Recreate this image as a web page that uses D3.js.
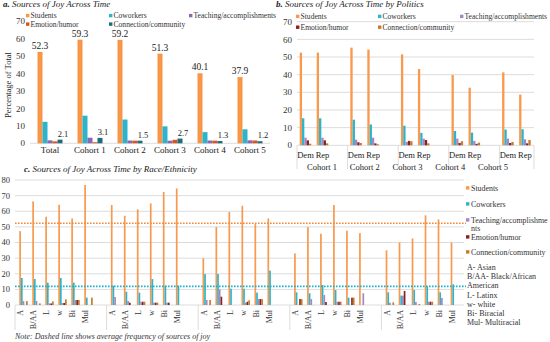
<!DOCTYPE html>
<html>
<head>
<meta charset="utf-8">
<script src="https://cdn.jsdelivr.net/npm/d3@7"></script>
<style>
  body { margin: 0; background: #fff; }
  svg { display: block; font-family: 'Liberation Serif', 'Times New Roman', serif; }
</style>
</head>
<body>
<div id="chart"></div>
<script>
/* global d3 */

const seriesNames = ['Students', 'Coworkers', 'Teaching/accomplishments', 'Emotion/humor', 'Connection/community']

// a. across time
const timeCats = ['Total', 'Cohort 1', 'Cohort 2', 'Cohort 3', 'Cohort 4', 'Cohort 5']
const timeStudents = [52.3, 59.3, 59.2, 51.3, 40.1, 37.9]
const timeCoworkers = [12.3, 15.8, 13.6, 9.7, 6.4, 8.0]
const timeTeaching = [1.7, 3.2, 1.6, 1.5, 1.6, 1.7]
const timeEmotion = [1.1, 0.6, 1.5, 2.0, 1.5, 1.6]
const timeConnection = [2.1, 3.1, 1.5, 2.7, 1.3, 1.2]

// b. by politics (Dem, Rep per cohort)
const cohorts = ['Cohort 1', 'Cohort 2', 'Cohort 3', 'Cohort 4', 'Cohort 5']
const parties = ['Dem', 'Rep']
const polStudents = [52.5, 52.5, 55.3, 54.2, 51.5, 43.2, 39.8, 32.6, 41.3, 28.7]
const polCoworkers = [15.3, 15.3, 14.5, 11.8, 11.1, 7.0, 8.1, 7.2, 8.9, 9.1]
const polTeaching = [4.3, 4.3, 3.2, 4.3, 1.9, 3.8, 3.8, 2.5, 3.8, 3.4]
const polEmotion = [2.8, 2.8, 1.7, 1.1, 2.5, 3.0, 1.3, 0.8, 1.3, 1.1]
const polConnection = [0.9, 1.1, 1.3, 0.6, 2.3, 1.1, 2.3, 1.5, 1.9, 3.0]

// c. by race/ethnicity (6 groups per cohort)
const races = ['A', 'B/AA', 'L', 'w', 'Bi', 'Mul']
const raceStudents = [
  47.3, 66.3, 56.5, 64.2, 55.4, 76.8,
  64.0, 57.1, 61.2, 65.0, 72.3, 74.6,
  29.9, 49.9, 59.5, 63.5, 51.8, 55.4,
  33.0, 49.9, 45.6, 64.0, 47.5, 46.0,
  35.0, 40.0, 42.6, 57.4, 54.8, 40.0]
const raceCoworkers = [
  17.3, 16.6, 14.3, 17.3, 14.3, 4.7,
  12.4, 8.5, 7.9, 16.6, 12.4, 12.4,
  19.8, 19.8, 10.4, 10.4, 7.9, 22.0,
  8.1, 7.5, 12.8, 9.6, 4.7, 0,
  8.1, 6.0, 9.6, 11.7, 8.1, 13.2]
const raceTeaching = [
  2.5, 2.6, 1.0, 1.3, 3.2, 0,
  5.1, 2.6, 2.1, 1.5, 1.5, 0,
  3.2, 10.0, 0, 1.5, 3.8, 0,
  0, 3.8, 6.4, 2.1, 0, 7.5,
  1.5, 6.0, 1.9, 2.1, 4.5, 0]
const raceEmotion = [
  0, 0, 1.0, 1.3, 3.2, 0,
  0, 1.5, 2.1, 1.5, 1.5, 0,
  0, 5.3, 0, 2.1, 3.8, 0,
  3.8, 0, 1.9, 2.1, 4.7, 0,
  0, 9.0, 0, 2.1, 0, 0]
const raceConnection = [
  2.5, 1.0, 2.3, 3.6, 3.2, 4.7,
  0, 0, 2.1, 1.5, 0, 0,
  3.2, 0, 0, 3.0, 3.8, 0,
  3.8, 0, 0, 2.1, 4.7, 0,
  1.7, 0, 0.6, 2.1, 0, 0]
const avgStudents = 52.3
const avgCoworkers = 11.9
const raceKey = ['A- Asian', 'B/AA- Black/African', 'American', 'L- Latinx', 'w- white', 'Bi- Biracial', 'Mul- Multiracial']

const colorsA = ['#f79646', '#2db4cb', '#8a66b4', '#d9541e', '#1d6d7c']
const colorsB = ['#f8994d', '#2db4cb', '#a487c6', '#8e1f1f', '#c87a2b']
const gridColor = '#dcdcdc'

const svg = d3.select('#chart').append('svg')
  .attr('width', 550)
  .attr('height', 342)

function legend(g, colors, items, size) {
  items.forEach(it => {
    g.append('rect')
      .attr('x', it.x).attr('y', it.y - 1.8)
      .attr('width', 3.4).attr('height', 3.4)
      .attr('fill', colors[it.i])
    g.append('text')
      .attr('x', it.x + 4.5).attr('y', it.y)
      .attr('dy', '0.33em')
      .attr('font-size', size)
      .attr('fill', '#333')
      .text(seriesNames[it.i])
  })
}

function title(x, y, letter, text) {
  const t = svg.append('text')
    .attr('x', x).attr('y', y)
    .attr('font-size', 9)
    .attr('font-style', 'italic')
    .attr('fill', '#222')
  t.append('tspan').attr('font-weight', 'bold').text(letter + '  ')
  t.append('tspan').text(text)
}

// ---------- panel a ----------
{
  const seriesVals = [timeStudents, timeCoworkers, timeTeaching, timeEmotion, timeConnection]
  const y = d3.scaleLinear().domain([0, 70]).range([143.3, 21])
  const x = d3.scaleBand().domain(timeCats).range([30, 270])
    .paddingInner(0.375).paddingOuter(0.1875)
  const xs = d3.scaleBand().domain(d3.range(5)).range([0, x.bandwidth()])
  const g = svg.append('g')

  title(3, 7, 'a.', 'Sources of Joy Across Time')
  legend(g, colorsA, [
    {i: 0, x: 26, y: 15.7}, {i: 1, x: 109, y: 15.7}, {i: 2, x: 189, y: 15.7},
    {i: 3, x: 26, y: 24.2}, {i: 4, x: 109, y: 24.2}
  ], 7.6)

  g.selectAll('.ytick').data(d3.range(0, 71, 10)).enter().append('text')
    .attr('x', 25).attr('y', d => y(d)).attr('dy', '0.35em')
    .attr('text-anchor', 'end').attr('font-size', 9).attr('fill', '#333')
    .text(d => d)

  g.append('line')
    .attr('x1', 30).attr('x2', 270).attr('y1', y(0)).attr('y2', y(0))
    .attr('stroke', gridColor)

  seriesVals.forEach((vals, si) => {
    g.selectAll('.bar' + si).data(vals).enter().append('rect')
      .attr('x', (d, i) => x(timeCats[i]) + xs(si))
      .attr('y', d => y(d))
      .attr('width', xs.bandwidth())
      .attr('height', d => y(0) - y(d))
      .attr('fill', colorsA[si])
  })

  g.selectAll('.lblS').data(timeStudents).enter().append('text')
    .attr('x', (d, i) => x(timeCats[i]) + xs(0) + xs.bandwidth() / 2)
    .attr('y', d => y(d) - 3)
    .attr('text-anchor', 'middle').attr('font-size', 9.5).attr('fill', '#222')
    .text(d => d.toFixed(1))

  g.selectAll('.lblC').data(timeConnection).enter().append('text')
    .attr('x', (d, i) => x(timeCats[i]) + xs(4) + xs.bandwidth() / 2 + 3)
    .attr('y', d => y(d) - 3)
    .attr('text-anchor', 'middle').attr('font-size', 8.5).attr('fill', '#222')
    .text(d => d.toFixed(1))

  g.selectAll('.xlab').data(timeCats).enter().append('text')
    .attr('x', d => x(d) + x.bandwidth() / 2)
    .attr('y', 153)
    .attr('text-anchor', 'middle').attr('font-size', 9).attr('fill', '#222')
    .text(d => d)

  g.append('text')
    .attr('transform', 'translate(11,' + 85 + ') rotate(-90)')
    .attr('text-anchor', 'middle').attr('font-size', 8.5).attr('fill', '#222')
    .text('Percentage of Total')
}

// ---------- panel b ----------
{
  const seriesVals = [polStudents, polCoworkers, polTeaching, polEmotion, polConnection]
  const y = d3.scaleLinear().domain([0, 70]).range([145.3, 21.7])
  const gx = d3.scaleBand().domain(cohorts).range([297, 550])
  const px = d3.scaleBand().domain(parties).range([0, 34])
    .paddingInner(0.32).paddingOuter(0.16)
  const xs = d3.scaleBand().domain(d3.range(5)).range([0, px.bandwidth()])
  const plotRight = 534
  const g = svg.append('g')

  title(276, 7, 'b.', 'Sources of Joy Across Time by Politics')
  legend(g, colorsB, [
    {i: 0, x: 296, y: 16.5}, {i: 1, x: 378, y: 16.5}, {i: 2, x: 460, y: 16.5},
    {i: 3, x: 296, y: 27.3}, {i: 4, x: 378, y: 27.3}
  ], 7.6)

  const ticks = d3.range(0, 71, 10)
  g.selectAll('.grid').data(ticks).enter().append('line')
    .attr('x1', 297).attr('x2', plotRight)
    .attr('y1', d => y(d)).attr('y2', d => y(d))
    .attr('stroke', gridColor)
  g.selectAll('.ytick').data(ticks).enter().append('text')
    .attr('x', 292).attr('y', d => y(d)).attr('dy', '0.35em')
    .attr('text-anchor', 'end').attr('font-size', 9).attr('fill', '#333')
    .text(d => d)

  const seps = cohorts.map(c => gx(c)).concat([plotRight])
  g.selectAll('.sep').data(seps).enter().append('line')
    .attr('x1', d => d).attr('x2', d => d)
    .attr('y1', y(0)).attr('y2', 169)
    .attr('stroke', gridColor)

  seriesVals.forEach((vals, si) => {
    g.selectAll('.bar' + si).data(vals).enter().append('rect')
      .attr('x', (d, i) => gx(cohorts[Math.floor(i / 2)]) + px(parties[i % 2]) + xs(si))
      .attr('y', d => y(d))
      .attr('width', xs.bandwidth())
      .attr('height', d => y(0) - y(d))
      .attr('fill', colorsB[si])
  })

  cohorts.forEach(c => {
    parties.forEach(p => {
      g.append('text')
        .attr('x', gx(c) + px(p) + px.bandwidth() / 2)
        .attr('y', 157.5)
        .attr('text-anchor', 'middle').attr('font-size', 8.5).attr('fill', '#222')
        .text(p)
    })
  })

  const cx = d3.scalePoint().domain(cohorts).range([322, 493])
  g.selectAll('.clab').data(cohorts).enter().append('text')
    .attr('x', d => cx(d)).attr('y', 169.5)
    .attr('text-anchor', 'middle').attr('font-size', 8.5).attr('fill', '#222')
    .text(d => d)
}

// ---------- panel c ----------
{
  const seriesVals = [raceStudents, raceCoworkers, raceTeaching, raceEmotion, raceConnection]
  const y = d3.scaleLinear().domain([0, 80]).range([305, 180])
  const gx = d3.scaleBand().domain(d3.range(5)).range([15, 473])
  const cx = d3.scaleBand().domain(races).range([2, 80])
    .paddingInner(0.35).paddingOuter(0.175)
  const xs = d3.scaleBand().domain(d3.range(5)).range([0, cx.bandwidth()])
  const plotRight = 464
  const g = svg.append('g')

  const t = svg.append('text')
    .attr('x', 24).attr('y', 172)
    .attr('font-size', 9).attr('font-style', 'italic').attr('fill', '#222')
  t.append('tspan').attr('font-weight', 'bold').text('c.  ')
  t.append('tspan').text('Sources of Joy Across Time by Race/Ethnicity')

  const ticks = d3.range(0, 81, 10)
  g.selectAll('.grid').data(ticks).enter().append('line')
    .attr('x1', 15).attr('x2', plotRight)
    .attr('y1', d => y(d)).attr('y2', d => y(d))
    .attr('stroke', gridColor)
  g.selectAll('.ytick').data(ticks).enter().append('text')
    .attr('x', 10).attr('y', d => y(d)).attr('dy', '0.35em')
    .attr('text-anchor', 'end').attr('font-size', 8.5).attr('fill', '#333')
    .text(d => d)

  g.selectAll('.sep').data(d3.range(5)).enter().append('line')
    .attr('x1', d => gx(d)).attr('x2', d => gx(d))
    .attr('y1', y(0)).attr('y2', 330)
    .attr('stroke', gridColor)

  seriesVals.forEach((vals, si) => {
    g.selectAll('.bar' + si).data(vals).enter().append('rect')
      .attr('x', (d, i) => gx(Math.floor(i / 6)) + cx(races[i % 6]) + xs(si))
      .attr('y', d => y(d))
      .attr('width', xs.bandwidth())
      .attr('height', d => y(0) - y(d))
      .attr('fill', colorsB[si])
  })

  g.append('line')
    .attr('x1', 15).attr('x2', plotRight + 2)
    .attr('y1', y(avgStudents)).attr('y2', y(avgStudents))
    .attr('stroke', '#f4883a').attr('stroke-width', 1.6)
    .attr('stroke-dasharray', '1.6,1.4')
  g.append('line')
    .attr('x1', 15).attr('x2', plotRight + 2)
    .attr('y1', y(avgCoworkers)).attr('y2', y(avgCoworkers))
    .attr('stroke', '#1fb2cc').attr('stroke-width', 1.6)
    .attr('stroke-dasharray', '1.6,1.4')

  d3.range(5).forEach(gi => {
    races.forEach(r => {
      const xc = gx(gi) + cx(r) + cx.bandwidth() / 2 - 3
      g.append('text')
        .attr('transform', 'translate(' + xc + ',310) rotate(-90)')
        .attr('text-anchor', 'end').attr('dy', '0.35em')
        .attr('font-size', 8).attr('fill', '#333')
        .text(r)
    })
  })

  // legend
  const ly = [188, 204, 220, 237, 252]
  ly.forEach((yy, i) => {
    g.append('rect')
      .attr('x', 466).attr('y', yy - 1.8)
      .attr('width', 3.4).attr('height', 3.4)
      .attr('fill', colorsB[i])
    const tx = g.append('text')
      .attr('x', 471).attr('y', yy).attr('dy', '0.33em')
      .attr('font-size', 7.9).attr('fill', '#333')
    if (i === 2) {
      tx.append('tspan').text('Teaching/accomplishme')
      tx.append('tspan').attr('x', 471).attr('dy', '8.2').text('nts')
    } else {
      tx.text(seriesNames[i])
    }
  })
  g.selectAll('.key').data(raceKey).enter().append('text')
    .attr('x', 467).attr('y', (d, i) => 267 + i * 9.3).attr('dy', '0.33em')
    .attr('font-size', 8).attr('fill', '#333')
    .text(d => d)

  svg.append('text')
    .attr('x', 15).attr('y', 339)
    .attr('font-size', 8).attr('font-style', 'italic').attr('fill', '#333')
    .text('Note: Dashed line shows average frequency of sources of joy')
}
</script>
</body>
</html>
